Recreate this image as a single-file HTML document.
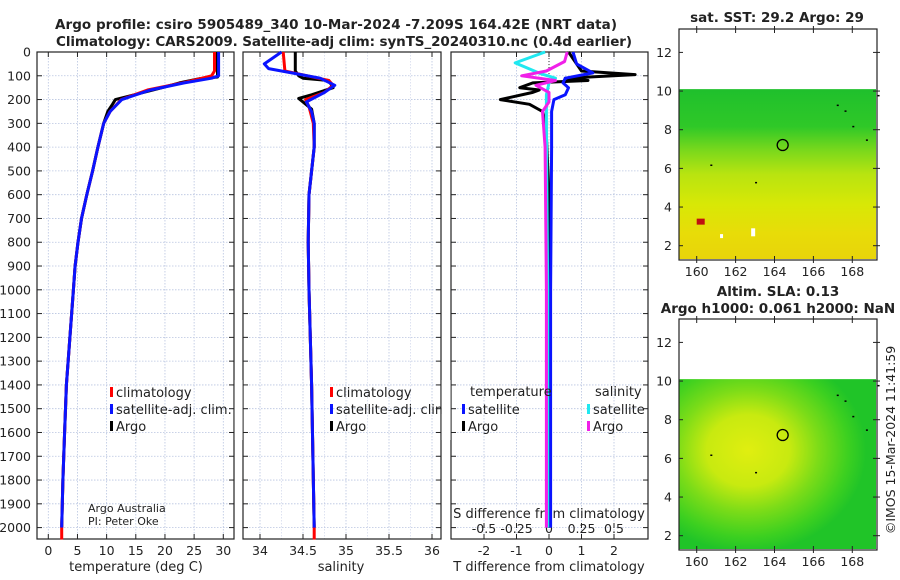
<!DOCTYPE html>
<html><head><meta charset="utf-8">
<style>
html,body{margin:0;padding:0;background:#fff;}
svg{display:block;font-family:"DejaVu Sans","Liberation Sans",sans-serif;}
</style></head>
<body>
<svg id="fig" width="900" height="580" viewBox="0 0 900 580" xmlns="http://www.w3.org/2000/svg">
<defs>
<linearGradient id="sstGrad" x1="0" y1="0" x2="0" y2="1">
<stop offset="0" stop-color="#1fc02c"/><stop offset="0.22" stop-color="#2fc828"/>
<stop offset="0.36" stop-color="#7ad81c"/><stop offset="0.5" stop-color="#b8e410"/>
<stop offset="0.68" stop-color="#d8e806"/><stop offset="0.85" stop-color="#e8dc08"/>
<stop offset="1" stop-color="#e8d40a"/></linearGradient>
<radialGradient id="slaGrad" cx="0.35" cy="0.42" r="0.6">
<stop offset="0" stop-color="#e0ee10"/><stop offset="0.35" stop-color="#c8ea10"/>
<stop offset="0.6" stop-color="#7cdc18"/><stop offset="0.85" stop-color="#3cd020"/>
<stop offset="1" stop-color="#20c428"/></radialGradient>
</defs>
<g id="root"></g>
</svg>
<script>
// ---------- data ----------
const depthTicks = [0,100,200,300,400,500,600,700,800,900,1000,1100,1200,1300,1400,1500,1600,1700,1800,1900,2000];
const tempTicks = [0,5,10,15,20,25,30];
const salTicks = [34,34.5,35,35.5,36];
const salTickLabels = ["34","34.5","35","35.5","36"];
const tdiffTicks = [-2,-1,0,1,2];
const sdiffTicks = [-0.5,-0.25,0,0.25,0.5];
const sdiffTickLabels = ["-0.5","-0.25","0","0.25","0.5"];

const tClimDepth = [0,80,100,130,160,200,250,300,400,500,600,700,800,900,1000,1200,1400,1600,1800,2000,2050];
const tClimVal   = [28.5,28.5,28,23,17,12.5,10.6,9.5,8.5,7.6,6.6,5.7,5.1,4.6,4.3,3.7,3.1,2.8,2.5,2.3,2.3];
const tSatDepth  = [0,100,110,130,160,200,250,300,400,500,600,700,800,900,1000,1200,1400,1600,1800,2000];
const tSatVal    = [29.2,29.2,28,23.3,17.5,12.6,10.6,9.5,8.5,7.6,6.6,5.7,5.1,4.6,4.3,3.7,3.1,2.8,2.5,2.3];
const tArgoDepth = [0,105,112,130,150,200,220,250,300,400,500,600,700,800,900,1000,1200,1400,1600,1800,2000];
const tArgoVal   = [29,29,26,22.5,19.5,11.5,11,10.2,9.5,8.5,7.6,6.6,5.7,5.1,4.6,4.3,3.7,3.1,2.8,2.5,2.3];

const sClimDepth = [0,80,100,120,140,170,200,230,300,400,500,600,800,1000,1400,2000,2050];
const sClimVal   = [34.27,34.29,34.55,34.8,34.85,34.75,34.53,34.57,34.62,34.63,34.6,34.57,34.56,34.57,34.6,34.63,34.63];
const sSatDepth  = [0,50,70,90,110,140,170,210,250,300,400,500,600,800,1000,1400,2000];
const sSatVal    = [34.25,34.05,34.1,34.4,34.7,34.87,34.75,34.54,34.6,34.63,34.63,34.6,34.57,34.56,34.57,34.6,34.63];
const sArgoDepth = [0,80,100,110,120,150,180,195,210,240,300,400,500,600,800,1000,1400,2000];
const sArgoVal   = [34.41,34.41,34.45,34.5,34.8,34.85,34.6,34.45,34.5,34.6,34.63,34.63,34.6,34.57,34.56,34.57,34.6,34.63];

const dtSatDepth  = [0,50,88,110,130,150,180,200,250,400,1000,2000];
const dtSatVal    = [0.74,0.85,1.35,0.5,0.43,0.6,0.5,0.15,0.08,0.08,0.05,0.05];
const dtArgoDepth = [0,80,95,110,120,130,150,160,170,200,220,250,300,600,950,1000,2000];
const dtArgoVal   = [0.6,1.0,2.65,0.5,1.2,-0.5,-0.9,-0.3,-0.5,-1.5,-0.6,-0.2,-0.1,0.0,-0.02,0.0,0.0];
const dsSatDepth  = [0,46,90,110,130,180,300,1000,2000];
const dsSatVal    = [-0.03,-0.26,-0.07,0.05,0.0,-0.02,-0.02,-0.01,-0.01];
const dsArgoDepth = [0,40,80,100,120,140,170,210,250,400,1000,2000];
const dsArgoVal   = [0.14,0.12,-0.02,-0.21,0.05,-0.1,0.0,0.0,-0.05,-0.03,-0.02,-0.02];

const lonTicks = [160,162,164,166,168];
const latTicks = [2,4,6,8,10,12];
const argoLon = [164.42];
const argoLat = [7.209];

// ---------- helpers ----------
const NS = "http://www.w3.org/2000/svg";
const root = document.getElementById('root');
function mk(tag, attrs, parent, text){
  const e = document.createElementNS(NS, tag);
  for (const k in attrs) e.setAttribute(k, attrs[k]);
  if (text !== undefined) e.textContent = text;
  (parent||root).appendChild(e);
  return e;
}
const yTop = 52, yPx = 0.2378;
function yD(d){ return yTop + d*yPx; }
const yBot = 539;

const panels = [
  {x0:37, x1:234, name:'temperature-panel'},
  {x0:243, x1:441, name:'salinity-panel'},
  {x0:451, x1:648, name:'difference-panel'}
];
function xT(v){ return 48.3 + v*5.833; }
function xS(v){ return 260 + (v-34)*86; }
function xDT(v){ return 549 + v*32.5; }
function xDS(v){ return 549 + v*130; }

// gridlines & frames
panels.forEach((p,i)=>{
  const g = mk('g',{});
  
  
  depthTicks.forEach(d=>{
    const gl = mk('line',{x1:p.x0,x2:p.x1,y1:yD(d),y2:yD(d),stroke:'#b8c4e0','stroke-width':0.8,'stroke-dasharray':'1.5,1.5'},g);
    
    
    mk('line',{x1:p.x0,x2:p.x0+5,y1:yD(d),y2:yD(d),stroke:'#222','stroke-width':1},g);
    mk('line',{x1:p.x1-5,x2:p.x1,y1:yD(d),y2:yD(d),stroke:'#222','stroke-width':1},g);
  });
  const xs = i===0 ? tempTicks.map(xT) : i===1 ? salTicks.map(xS) : tdiffTicks.map(xDT);
  xs.forEach(x=>{
    mk('line',{x1:x,x2:x,y1:yTop,y2:yBot,stroke:'#b8c4e0','stroke-width':0.8,'stroke-dasharray':'1.5,1.5'},g);
    mk('line',{x1:x,x2:x,y1:yTop,y2:yTop+5,stroke:'#222','stroke-width':1},g);
    mk('line',{x1:x,x2:x,y1:yBot-5,y2:yBot,stroke:'#222','stroke-width':1},g);
  });
  if (i===1){ [34.25,34.75,35.25,35.75].forEach(v=>{
    mk('line',{x1:xS(v),x2:xS(v),y1:yTop,y2:yBot,stroke:'#c8d0e8','stroke-width':0.6,'stroke-dasharray':'1.5,1.5'},g);});}
  if (i===2){
    mk('line',{x1:549,x2:549,y1:yTop,y2:100,stroke:'#333','stroke-width':1,'stroke-dasharray':'1,2'},g);
  }
  const fr = mk('rect',{x:p.x0,y:yTop,width:p.x1-p.x0,height:yBot-yTop,fill:'none',stroke:'#222','stroke-width':1.2},g);
  
  
});

// y tick labels
depthTicks.forEach(d=>{
  const t = mk('text',{x:31,y:yD(d)+4.5,'text-anchor':'end','font-size':12.5,fill:'#222'},root,String(d));
  
  
});
tempTicks.forEach(v=>{
  const t = mk('text',{x:xT(v),y:555,'text-anchor':'middle','font-size':12.5,fill:'#222'},root,String(v));
  
  
});
salTicks.forEach((v,k)=>{
  const t = mk('text',{x:xS(v),y:555,'text-anchor':'middle','font-size':12.5,fill:'#222'},root,salTickLabels[k]);
  
  
});
tdiffTicks.forEach(v=>{
  const t = mk('text',{x:xDT(v),y:555,'text-anchor':'middle','font-size':12.5,fill:'#222'},root,String(v));
  
  
});
sdiffTicks.forEach((v,k)=>{
  mk('line',{x1:xDS(v),x2:xDS(v),y1:yBot-16,y2:yBot-11,stroke:'#222','stroke-width':1});
  const t = mk('text',{x:xDS(v),y:533,'text-anchor':'middle','font-size':12.5,fill:'#222'},root,sdiffTickLabels[k]);
  
  
});

function label(x,y,txt,name,opts){
  const a = Object.assign({x:x,y:y,'text-anchor':'middle','font-size':13,fill:'#222'},opts||{});
  const t = mk('text',a,root,txt);
  
  
  return t;
}
label(136,571,'temperature (deg C)','temperature-axis-title');
label(341,571,'salinity','salinity-axis-title');
label(549,571,'T difference from climatology','t-diff-axis-title');
label(549,518,'S difference from climatology','s-diff-axis-title');

// series
function line(depths, vals, xf, color, w, name){
  const pts = depths.map((d,k)=> xf(vals[k]).toFixed(1)+','+yD(d).toFixed(1)).join(' ');
  const pl = mk('polyline',{points:pts,fill:'none',stroke:color,'stroke-width':w,'stroke-linejoin':'round'});
  
  
}
line(tArgoDepth,tArgoVal,xT,'#000',3,'temperature-argo-line');
line(tClimDepth,tClimVal,xT,'#ff0000',3,'temperature-climatology-line');
line(tSatDepth,tSatVal,xT,'#0a14ff',3,'temperature-satellite-line');
line(sArgoDepth,sArgoVal,xS,'#000',3,'salinity-argo-line');
line(sClimDepth,sClimVal,xS,'#ff0000',3,'salinity-climatology-line');
line(sSatDepth,sSatVal,xS,'#0a14ff',3,'salinity-satellite-line');
line(dtArgoDepth,dtArgoVal,xDT,'#000',3,'t-diff-argo-line');
line(dtSatDepth,dtSatVal,xDT,'#0a14ff',3,'t-diff-satellite-line');
line(dsSatDepth,dsSatVal,xDS,'#20e8f0',3,'s-diff-satellite-line');
line(dsArgoDepth,dsArgoVal,xDS,'#f020e8',3,'s-diff-argo-line');

// legends
function legendEntry(x,y,color,txt,name){
  const g = mk('g',{});
  
  
  mk('rect',{x:x,y:y-9,width:3,height:10,fill:color},g);
  mk('text',{x:x+6,y:y+1,'font-size':13,fill:'#222'},g,txt);
}
legendEntry(110,396,'#ff0000','climatology','legend-entry-climatology');
legendEntry(110,413,'#0a14ff','satellite-adj. clim.','legend-entry-satellite');
legendEntry(110,430,'#000','Argo','legend-entry-argo');
legendEntry(330,396,'#ff0000','climatology','legend-entry-climatology-sal');
legendEntry(330,413,'#0a14ff','satellite-adj. clim.','legend-entry-satellite-sal');
legendEntry(330,430,'#000','Argo','legend-entry-argo-sal');
label(470,396,'temperature','legend-heading-temperature',{'text-anchor':'start'});
label(595,396,'salinity','legend-heading-salinity',{'text-anchor':'start'});
legendEntry(462,413,'#0a14ff','satellite','legend-entry-t-satellite');
legendEntry(462,430,'#000','Argo','legend-entry-t-argo');
legendEntry(587,413,'#20e8f0','satellite','legend-entry-s-satellite');
legendEntry(587,430,'#f020e8','Argo','legend-entry-s-argo');
// cover panel-2 overflow of legend text into gap
mk('rect',{x:234.6,y:380,width:8,height:60,fill:'#fff'});
mk('rect',{x:441.6,y:380,width:9,height:60,fill:'#fff'});

label(88,512,'Argo Australia','credit-text',{'text-anchor':'start','font-size':11});
label(88,525,'PI: Peter Oke','pi-text',{'text-anchor':'start','font-size':11});

// titles
label(336,29,'Argo profile: csiro 5905489_340 10-Mar-2024 -7.209S 164.42E (NRT data)','main-title-line1',{'font-weight':'bold','font-size':13.5,textLength:562});
label(344,46,'Climatology: CARS2009. Satellite-adj clim: synTS_20240310.nc (0.4d earlier)','main-title-line2',{'font-weight':'bold','font-size':13.5,textLength:576});

// maps
const maps = [
  {top:29, bot:260, lat0y:245.7, fillTop:10.1, fill:'url(#sstGrad)', name:'sst-map'},
  {top:319, bot:550, lat0y:535.7, fillTop:10.1, fill:'url(#slaGrad)', name:'sla-map'}
];
const mx0 = 679, mx1 = 877;
function xLon(v){ return 696.7 + (v-160)*19.45; }
maps.forEach(m=>{
  const yLat = v => m.lat0y - (v-2)*19.33;
  const g = mk('g',{});
  
  
  const f = mk('rect',{x:mx0,y:yLat(m.fillTop),width:mx1-mx0-1,height:m.bot-1-yLat(m.fillTop),fill:m.fill},g);
  
  
  // island specks
  [[167.2,9.3],[167.6,9.0],[168.0,8.2],[168.7,7.5],[163.0,5.3],[160.7,6.2],[169.3,9.8]].forEach(p=>{
    mk('rect',{x:xLon(p[0]),y:yLat(p[1]),width:2,height:1.5,fill:'#000'},g);
  });
  mk('rect',{x:mx0,y:m.top,width:mx1-mx0,height:m.bot-m.top,fill:'none',stroke:'#222','stroke-width':1.2},g);
  latTicks.forEach(v=>{
    mk('line',{x1:mx0,x2:mx0+4,y1:yLat(v),y2:yLat(v),stroke:'#222'},g);
    mk('line',{x1:mx1-4,x2:mx1+3,y1:yLat(v),y2:yLat(v),stroke:'#222'},g);
    const t = mk('text',{x:mx0-7,y:yLat(v)+4.5,'text-anchor':'end','font-size':12.5,fill:'#222'},g,String(v));
    
    
  });
  lonTicks.forEach(v=>{
    mk('line',{x1:xLon(v),x2:xLon(v),y1:m.bot-4,y2:m.bot+3,stroke:'#222'},g);
    mk('line',{x1:xLon(v),x2:xLon(v),y1:m.top-3,y2:m.top+4,stroke:'#222'},g);
    const t = mk('text',{x:xLon(v),y:m.bot+16,'text-anchor':'middle','font-size':12.5,fill:'#222'},g,String(v));
    
    
  });
  argoLon.forEach((lo,k)=>{
    const c = mk('circle',{cx:xLon(lo),cy:yLat(argoLat[k]),r:5.5,fill:'none',stroke:'#000','stroke-width':1.3},g);
    
    
  });
});
// SST hot spot
mk('rect',{x:xLon(160),y:245.7-(3.4-2)*19.33,width:8,height:6,fill:'#c01010'});
mk('rect',{x:xLon(162.8),y:245.7-(2.9-2)*19.33,width:4,height:8,fill:'#fff'});
mk('rect',{x:xLon(161.2),y:245.7-(2.6-2)*19.33,width:3,height:4,fill:'#fff'});

label(777,22,'sat. SST: 29.2 Argo: 29','sst-map-title',{'font-weight':'bold','font-size':13.5});
label(778,296,'Altim. SLA: 0.13','sla-map-title',{'font-weight':'bold','font-size':13.5});
label(778,313,'Argo h1000: 0.061 h2000: NaN','argo-height-title',{'font-weight':'bold','font-size':13.5});
label(0,0,'©IMOS 15-Mar-2024 11:41:59','timestamp-text',{transform:'translate(895,440) rotate(-90)','font-size':12.5});
</script>
</body></html>
